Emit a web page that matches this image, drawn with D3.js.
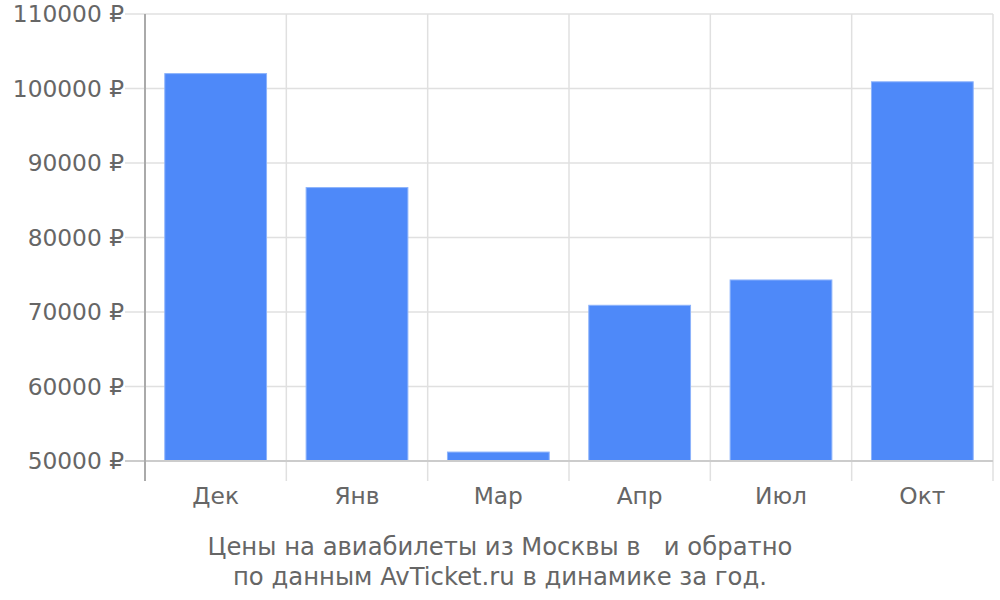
<!DOCTYPE html>
<html>
<head>
<meta charset="utf-8">
<script src="https://cdn.jsdelivr.net/npm/d3@7"></script>
<style>
  body { margin: 0; background: #fff; }
  text { font-family: "DejaVu Sans", sans-serif; fill: #666; }
</style>
</head>
<body>
<div id="chart"></div>
<script>
// Data
var months = ["Дек", "Янв", "Мар", "Апр", "Июл", "Окт"];
var prices = [102000, 86700, 51200, 70900, 74300, 100900];
var yTicks = [50000, 60000, 70000, 80000, 90000, 100000, 110000];
var titleLines = ["Цены на авиабилеты из Москвы в   и обратно",
                  "по данным AvTicket.ru в динамике за год."];

var margin = { top: 14, right: 7, bottom: 139, left: 145 },
    width = 1000 - margin.left - margin.right,
    height = 600 - margin.top - margin.bottom;

var svg = d3.select("#chart")
    .append("svg")
    .attr("width", width + margin.left + margin.right)
    .attr("height", height + margin.top + margin.bottom)
    .append("g")
    .attr("transform", "translate(" + margin.left + "," + margin.top + ")");

var x = d3.scaleBand().domain(months).range([0, width]).padding(0);
var y = d3.scaleLinear().domain([50000, 110000]).range([height, 0]);

// horizontal grid + tick stubs to the left
svg.append("g")
    .selectAll("line")
    .data(yTicks)
    .enter()
    .append("line")
    .attr("x1", -20)
    .attr("x2", width)
    .attr("y1", function(d) { return y(d) })
    .attr("y2", function(d) { return y(d) })
    .style("stroke", "#e0e0e0")
    .style("stroke-width", 1.5);

// vertical grid between categories, extended below the baseline
var edges = months.map(function(m) { return x(m) }).concat([width]);
svg.append("g")
    .selectAll("line")
    .data(edges.slice(1))
    .enter()
    .append("line")
    .attr("x1", function(d) { return d })
    .attr("x2", function(d) { return d })
    .attr("y1", 0)
    .attr("y2", height + 20)
    .style("stroke", "#e0e0e0")
    .style("stroke-width", 1.5);

// y labels
svg.append("g")
    .selectAll("text")
    .data(yTicks)
    .enter()
    .append("text")
    .attr("x", -21)
    .attr("y", function(d) { return y(d) })
    .attr("dy", "0.35em")
    .attr("text-anchor", "end")
    .style("font-size", "23.3px")
    .text(function(d) { return d + " ₽" });

// bars
var barW = x.bandwidth() * 0.72;
svg.append("g")
    .selectAll("rect")
    .data(prices)
    .enter()
    .append("rect")
    .attr("x", function(d, i) { return x(months[i]) + (x.bandwidth() - barW) / 2 })
    .attr("y", function(d) { return y(d) })
    .attr("width", barW)
    .attr("height", function(d) { return height - y(d) })
    .style("fill", "#4e89f9")
    .style("stroke", "#8db3fb")
    .style("stroke-width", 1);

// baseline and left axis
svg.append("line")
    .attr("x1", -20).attr("x2", width)
    .attr("y1", height).attr("y2", height)
    .style("stroke", "#cccccc").style("stroke-width", 2);
svg.append("line")
    .attr("x1", 0).attr("x2", 0)
    .attr("y1", 0).attr("y2", height + 20)
    .style("stroke", "#aaaaaa").style("stroke-width", 2);

// category labels
svg.append("g")
    .selectAll("text")
    .data(months)
    .enter()
    .append("text")
    .attr("x", function(d) { return x(d) + x.bandwidth() / 2 })
    .attr("y", height + 43)
    .attr("text-anchor", "middle")
    .style("font-size", "23.3px")
    .text(function(d) { return d });

// caption
svg.append("g")
    .selectAll("text")
    .data(titleLines)
    .enter()
    .append("text")
    .attr("x", 500 - margin.left)
    .attr("y", function(d, i) { return height + 94 + i * 30 })
    .attr("text-anchor", "middle")
    .attr("xml:space", "preserve")
    .style("white-space", "pre")
    .style("font-size", "24.3px")
    .text(function(d) { return d });
</script>
</body>
</html>
